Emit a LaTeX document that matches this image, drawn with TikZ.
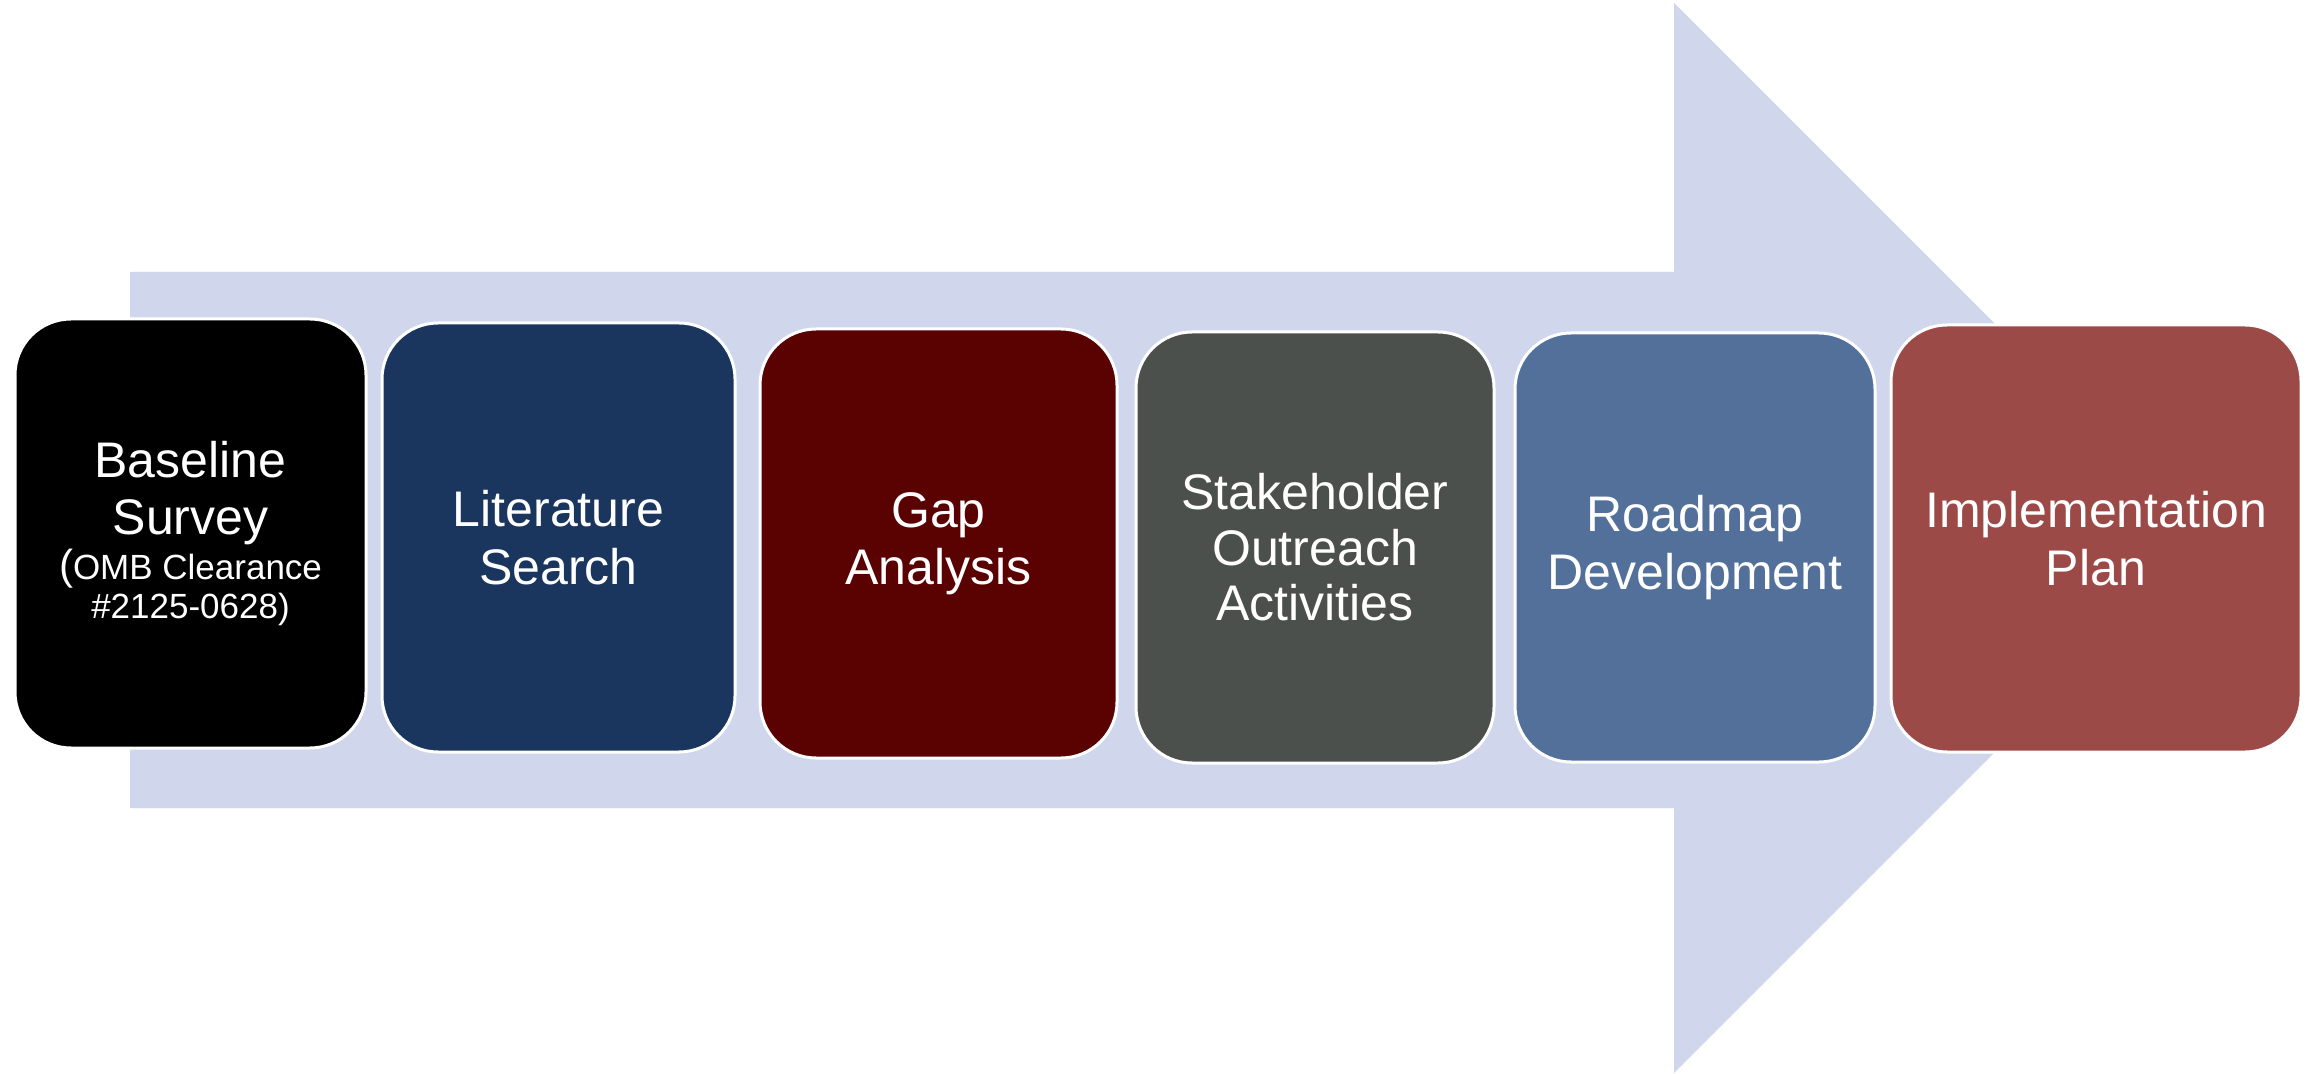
\documentclass[tikz,border=0pt]{standalone}
\usepackage{fontspec}
\setmainfont{Liberation Sans}
\newcommand\bigtxt{\fontsize{25}{28.75}\selectfont}
\newcommand\smalltxt{\fontsize{17.5}{19}\selectfont}
\newcommand\parentxt{\fontsize{21}{19}\selectfont}
\definecolor{arrowfill}{HTML}{D0D7EC}
\definecolor{cA}{HTML}{000000}
\definecolor{cB}{HTML}{1A355E}
\definecolor{cC}{HTML}{5A0202}
\definecolor{cD}{HTML}{4B504C}
\definecolor{cE}{HTML}{52709A}
\definecolor{cF}{HTML}{9C4A48}
\tikzset{
  stepbox/.style={rounded corners=28pt, draw=white, line width=1.5pt, text=white,
    align=center, font=\bigtxt, inner sep=0pt},
  bigarrow/.style={fill=arrowfill, draw=none}
}
\begin{document}
\begin{tikzpicture}[x=0.5pt,y=-0.5pt]
\useasboundingbox (0,0) rectangle (2313,1074);
\fill[white] (0,0) rectangle (2313,1074);
\path[bigarrow] (130,272) -- (1674,272) -- (1674,3) -- (2209,538) -- (1674,1073) -- (1674,808) -- (130,808) -- cycle;
\node[stepbox, fill=cA, minimum width=175.5pt, minimum height=214.5pt] (s1) at (190.5,533.5)
  {Baseline\\Survey\\[-6.5pt]{\smalltxt{\parentxt(}OMB Clearance}\\[-9pt]{\smalltxt \#2125-0628)}};
\node[stepbox, fill=cB, minimum width=176.5pt, minimum height=214.5pt] (s2) at (558.5,537.5)
  {Literature\\Search};
\node[stepbox, fill=cC, minimum width=178.5pt, minimum height=214.5pt] (s3) at (938.5,543.5)
  {Gap\\Analysis};
\node[stepbox, fill=cD, minimum width=179pt, minimum height=215.5pt] (s4) at (1315,547.5)
  {Stakeholder\\[-1pt]Outreach\\[-1pt]Activities};
\node[stepbox, fill=cE, minimum width=180pt, minimum height=214.5pt] (s5) at (1695,547.5)
  {Roadmap\\Development};
\node[stepbox, fill=cF, minimum width=205pt, minimum height=213.5pt] (s6) at (2096,538.5)
  {Implementation\\Plan};
\end{tikzpicture}
\end{document}
